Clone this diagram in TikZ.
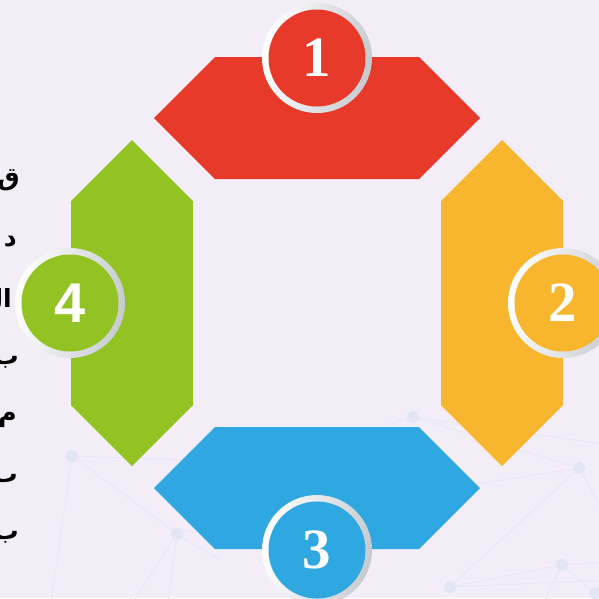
\documentclass[tikz,border=0pt]{standalone}
\usepackage{fontspec}
\setmainfont{Liberation Serif}
\newfontfamily\numsans{Liberation Sans}
\newfontfamily\arabicfont[Script=Arabic]{DejaVu Sans}
\TeXXeTstate=1
\usetikzlibrary{calc}
\definecolor{bgc}{HTML}{F2EDF7}
\definecolor{redc}{HTML}{E83A2A}
\definecolor{yelc}{HTML}{F7B62D}
\definecolor{bluc}{HTML}{2FA7E0}
\definecolor{grnc}{HTML}{92C322}
\definecolor{netl}{HTML}{E8E8F4}
\definecolor{netd}{HTML}{E2E6F4}
\definecolor{ringg}{HTML}{C6CACF}
\tikzset{
  netline/.style={draw=netl, line width=0.9pt},
  netdot/.style={circle, fill=netd, minimum size=12pt, inner sep=0pt},
  ringnode/.style={circle, minimum size=110pt, inner sep=0pt, shading=axis, left color=white, right color=ringg, shading angle=80},
  numtxt/.style={text=white, font=\bfseries\fontsize{57}{57}\selectfont},
  artxt/.style={anchor=east, font=\arabicfont\bfseries\fontsize{25}{25}\selectfont, text=black, inner sep=0pt}
}
\newcommand{\hexH}[3]{\fill[#3] ($(#1,#2)+(-163,0)$) -- ++(61,-61) -- ++(204,0) -- ++(61,61) -- ++(-61,61) -- ++(-204,0) -- cycle;}
\newcommand{\hexV}[3]{\fill[#3] ($(#1,#2)+(0,-163)$) -- ++(61,61) -- ++(0,204) -- ++(-61,61) -- ++(-61,-61) -- ++(0,-204) -- cycle;}
\begin{document}
\begin{tikzpicture}[x=1pt,y=-1pt]
\useasboundingbox (0,0) rectangle (599,598);
\clip (0,0) rectangle (599,598);
\fill[bgc] (0,0) rectangle (599,598);
% background network
\coordinate (e1) at (186,460);
\coordinate (e2) at (50,610);
\coordinate (e3) at (167,610);
\coordinate (e4) at (128,610);
\coordinate (e5) at (220,560);
\coordinate (e6) at (390,424);
\coordinate (e7) at (610,445);
\coordinate (e8) at (470,485);
\coordinate (e9) at (610,525);
\coordinate (e10) at (610,562);
\coordinate (e11) at (540,610);
\coordinate (e12) at (610,580);
\coordinate (e13) at (200,528);
\node[netdot] (n1) at (72,456) {};
\node[netdot] (n2) at (177,534) {};
\node[netdot] (n3) at (413,417) {};
\node[netdot] (n4) at (579,468) {};
\node[netdot] (n5) at (562,565) {};
\node[netdot] (n6) at (450,587) {};
\node[netdot] (n7) at (595,593) {};
\draw[netline] (n1) -- (n2) (n1) -- (e1) (n1) -- (e2) (n2) -- (e3) (n2) -- (e4) (n2) -- (e5) (n2) -- (e13);
\draw[netline] (n3) -- (e6) (n3) -- (e7) (n3) -- (n4) (e8) -- (n4) (n4) -- (n6) (n4) -- (e9);
\draw[netline] (n5) -- (e10) (n5) -- (n7) (n5) -- (e11) (n6) -- (e12) (n6) -- (n5);
% side text (cut off)
\node[artxt] (t1) at (20,180) {\beginR ق\endR};
\node[artxt] (t2) at (17,242) {\beginR د\endR};
\node[artxt] (t3) at (12,300) {\beginR ال\endR};
\node[artxt] (t4) at (19,362) {\beginR ب\endR};
\node[artxt] (t5) at (17,420) {\beginR م\endR};
\node[artxt] (t6) at (18,478) {\beginR ٮ\endR};
\node[artxt] (t7) at (19,537) {\beginR ب\endR};
% hexagons
\hexH{317}{118}{redc}
\hexV{502}{303}{yelc}
\hexH{317}{488}{bluc}
\hexV{132}{303}{grnc}
% number circles
\node[ringnode] (r1) at (317,58) {};
\node[ringnode] (r2) at (563,303) {};
\node[ringnode] (r3) at (317,550) {};
\node[ringnode] (r4) at (70,303) {};
\fill[redc] (r1.center) circle (48.5);
\fill[yelc] (r2.center) circle (48.5);
\fill[bluc] (r3.center) circle (48.5);
\fill[grnc] (r4.center) circle (48.5);
\node[numtxt] (c1) at (r1.center) {1};
\node[numtxt] (c2) at (r2.center) {2};
\node[numtxt] (c3) at (r3.center) {3};
\node[numtxt, font=\numsans\bfseries\fontsize{56}{56}\selectfont] (c4) at (r4.center) {4};
\end{tikzpicture}
\end{document}
